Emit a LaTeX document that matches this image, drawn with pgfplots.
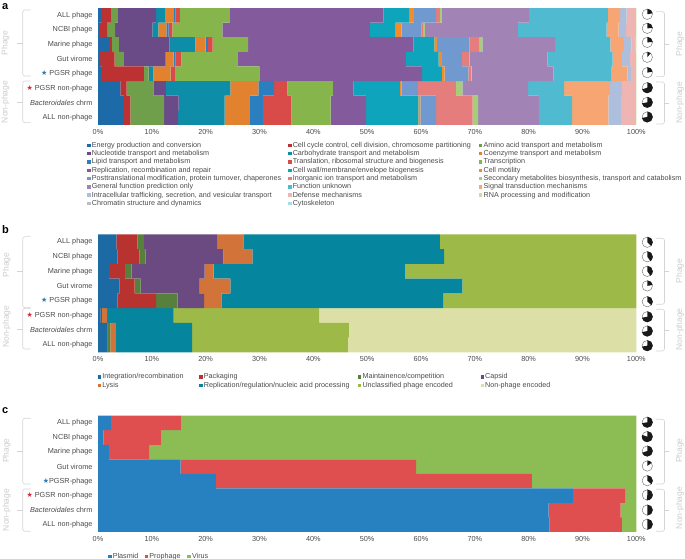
\documentclass[border=0pt]{standalone}
\usepackage{pgfplots}
\usepackage{pgfplotstable}
\usepackage{fontspec}
\pgfplotsset{compat=1.18}
\setmainfont{Liberation Sans}
\newfontfamily\djfont{DejaVu Sans}
\definecolor{txt}{HTML}{4A4A4A}
\definecolor{brk}{HTML}{D4D4D4}
\definecolor{brt}{HTML}{CCCCCC}
\definecolor{sblue}{HTML}{2A78B0}
\definecolor{sred}{HTML}{D02A35}
% panel a
\definecolor{A1}{HTML}{1C6AA8}\definecolor{A2}{HTML}{BC3232}\definecolor{A3}{HTML}{6F9F4B}
\definecolor{A4}{HTML}{6A4A87}\definecolor{A5}{HTML}{0D8DA8}\definecolor{A6}{HTML}{E2812E}
\definecolor{A7}{HTML}{2B7FBE}\definecolor{A8}{HTML}{D84B49}\definecolor{A9}{HTML}{86B54C}
\definecolor{A10}{HTML}{835A9C}\definecolor{A11}{HTML}{0EA5BC}\definecolor{A12}{HTML}{F28C2C}
\definecolor{A13}{HTML}{7099CF}\definecolor{A14}{HTML}{E47D7C}\definecolor{A15}{HTML}{A5CE78}
\definecolor{A16}{HTML}{A283B5}\definecolor{A17}{HTML}{50BBD0}\definecolor{A18}{HTML}{F7A673}
\definecolor{A19}{HTML}{AEBFDD}\definecolor{A20}{HTML}{EFB5B3}\definecolor{A21}{HTML}{C6DFA0}
\definecolor{A22}{HTML}{BDBDBD}\definecolor{A23}{HTML}{A6DCE6}
% panel b
\definecolor{B1}{HTML}{1C6AA4}\definecolor{B2}{HTML}{B8322F}\definecolor{B3}{HTML}{57803C}
\definecolor{B4}{HTML}{6A4A80}\definecolor{B5}{HTML}{D2743A}\definecolor{B6}{HTML}{06859F}
\definecolor{B7}{HTML}{9DBA48}\definecolor{B8}{HTML}{DCE0A6}
% panel c
\definecolor{C1}{HTML}{2780C0}\definecolor{C2}{HTML}{E04F4F}\definecolor{C3}{HTML}{8CBD55}

\pgfplotstableread{
row c1 c2 c3 c4 c5 c6 c7 c8 c9 c10 c11 c12 c13 c14 c15 c16 c17 c18 c19 c20 c21 c22 c23
0 .7 1.7 1.3 7.1 1.6 1.7 .3 .8 9.3 28.5 4.8 .9 4.1 .7 .4 16.2 14.6 2.3 1.2 1.7 .1 0 0
1 .2 1.5 1.5 6.9 1.1 1.5 .4 .7 9.3 27.4 4.8 1.1 3.7 .4 .2 17.3 16.5 2.2 1.4 1.8 .1 0 0
2 2.2 .4 1.3 9.35 4.85 1.9 .4 .9 6.6 30.7 3.9 .5 6.0 1.9 .5 13.5 10.3 2.5 1.4 .65 .25 0 0
3 .4 2.7 1.7 7.7 .1 1.45 .35 1.1 10.4 31.3 6.1 .6 3.7 1.4 .1 14.4 12.1 1.7 1.5 1.1 .1 0 0
4 .7 7.8 .9 .1 .8 3.2 .1 .7 15.7 30.2 3.7 .5 4.4 .5 .1 15.2 10.8 3.0 .6 .9 .1 0 0
5 4.15 1.15 5.0 2.3 12.0 5.2 2.9 2.5 8.45 3.85 8.6 .25 3.05 7.1 1.2 12.2 6.7 8.5 2.2 2.6 .1 0 0
6 4.8 1.2 6.3 2.7 8.5 4.7 2.45 5.25 7.3 6.6 9.7 .4 2.9 6.8 1.0 11.3 6.2 6.7 2.4 2.7 .1 0 0
7 4.8 1.2 6.3 2.6 8.6 4.7 2.45 5.25 7.3 6.6 9.7 .4 2.9 6.8 1.0 11.3 6.2 6.7 2.4 2.7 .1 0 0
}\tabA
\pgfplotstableread{
row c1 c2 c3 c4 c5 c6 c7 c8
0 3.4 3.9 1.2 13.7 4.8 36.5 36.5 0
1 3.6 4.1 1.15 14.45 5.4 35.6 35.7 0
2 2.0 3.0 1.25 13.55 1.7 35.5 43.0 0
3 4.0 2.8 1.1 10.9 5.8 43.1 32.3 0
4 3.6 7.2 4.0 4.9 3.2 41.2 35.9 0
5 .5 .05 .05 .1 1.0 12.35 27.05 58.9
6 1.75 .1 .45 0 1.0 14.2 29.1 53.4
7 1.75 .1 .45 0 1.0 14.2 28.9 53.6
}\tabB
\pgfplotstableread{
row c1 c2 c3
0 2.4 13.0 84.6
1 1.0 10.7 88.3
2 2.0 7.6 90.4
3 15.35 43.75 40.9
4 21.9 58.7 19.4
5 88.2 9.7 2.1
6 83.7 13.4 2.9
7 83.9 13.4 2.7
}\tabC

\pgfdeclareplotmark{pie}{%
  \pgfmathsetmacro\pieang{90-360*\pief}%
  \pgfsetlinewidth{0.45pt}%
  \pgfsetstrokecolor{black!55}%
  \pgfsetfillcolor{white}%
  \pgfpathcircle{\pgfpointorigin}{5.2pt}%
  \pgfusepath{fill,stroke}%
  \pgfsetfillcolor{black!90}%
  \pgfpathmoveto{\pgfpointorigin}%
  \pgfpathlineto{\pgfpointpolar{90}{5.5pt}}%
  \pgfpatharc{90}{\pieang}{5.5pt}%
  \pgfpathclose
  \pgfusepath{fill}%
}

\pgfplotsset{
  panel/.style={
    scale only axis, width=538.3pt,
    xbar stacked, bar width=1, clip=false,
    xmin=0, xmax=100, ymin=-.5, ymax=7.5, y dir=reverse,
    axis line style={draw=none}, major tick length=0pt,
    xtick={0,10,...,100}, ytick={0,...,7},
    xticklabel={\pgfmathprintnumber[assume math mode=true]{\tick}\%},
    tick label style={font=\fontsize{7.3}{8}\selectfont, text=txt, inner sep=0pt},
    xticklabel style={anchor=center, yshift=-6.8pt},
    yticklabel style={anchor=east, xshift=-5.3pt},
    legend cell align=left,
    legend style={draw=none, fill=none, inner sep=0pt, outer sep=0pt, anchor=north west,
      font=\fontsize{7.2}{8}\selectfont, text=txt,
      nodes={inner sep=0pt, text height=5.4pt, text depth=1.4pt},
      column sep=0pt, row sep=1.5pt,
      /tikz/every odd column/.append style={column sep=1pt},
      /tikz/every even column/.append style={column sep=0pt}},
    legend image code/.code={\path[##1,draw=none] (0pt,-1.7pt) rectangle (3.4pt,1.7pt);\path (0pt,0pt) -- (3.6pt,0pt);},
  },
  pieax/.style={
    scale only axis, width=538.3pt, hide axis, clip=false,
    xmin=0, xmax=100, ymin=-.5, ymax=7.5, y dir=reverse,
  },
  pies/.style={only marks, scatter, point meta=\thisrow{f},
    mark=pie, visualization depends on={\thisrow{f}\as\pief}},
}
\newcommand\starB[1]{{\color{sblue}\djfont\fontsize{7}{8}\selectfont ★}#1}
\newcommand\starR[1]{{\color{sred}\djfont\fontsize{7}{8}\selectfont ★}#1}
\newcommand\serA[3]{\addplot[fill=#1,draw=none] table[x=#2,y=row] {\tabA}; \addlegendentry{#3}}
\newcommand\serB[3]{\addplot[fill=#1,draw=none] table[x=#2,y=row] {\tabB}; \addlegendentry{#3}}
\newcommand\serC[3]{\addplot[fill=#1,draw=none] table[x=#2,y=row] {\tabC}; \addlegendentry{#3}}
\newcommand\wa[1]{\makebox[196.3pt][l]{#1}}
\newcommand\wb[1]{\makebox[186.3pt][l]{#1}}
% bracket helpers, coordinates in picture pixels from the top
\newcommand\lbrk[3]{\draw[brk,line width=.6pt,rounded corners=2.2pt] (30.7,#1) -- (22.7,#1) -- (22.7,#3) -- (30.7,#3);\draw[brk,line width=.6pt] (22.7,#2) -- (17.3,#2);}
\newcommand\rbrk[3]{\draw[brk,line width=.6pt,rounded corners=2.2pt] (656,#1) -- (664.5,#1) -- (664.5,#3) -- (656,#3);\draw[brk,line width=.6pt] (664.5,#2) -- (668.5,#2);}
\newcommand\sidetxt[3]{\node[rotate=90,text=brt,inner sep=0pt,font=\fontsize{8.5}{9}\selectfont] at (#1,#2) {#3};}
\begin{document}
\begin{tikzpicture}
\path[use as bounding box] (0,0) rectangle (685pt,559pt);
% ---------- a
\begin{axis}[panel, at={(98pt,434pt)}, anchor=south west, height=117pt,
  yticklabels={ALL phage,NCBI phage,Marine phage,Gut virome,{\starB{ PGSR phage}},{\starR{ PGSR non-phage}},{\textit{Bacteroidales} chrm},ALL non-phage},
  legend columns=3,
  legend style={at={(-0.0199,-0.145)}}]
\serA{A1}{c1}{\wa{Energy production and conversion}}
\serA{A2}{c2}{\wb{Cell cycle control, cell division, chromosome partitioning}}
\serA{A3}{c3}{Amino acid transport and metabolism}
\serA{A4}{c4}{\wa{Nucleotide transport and metabolism}}
\serA{A5}{c5}{\wb{Carbohydrate transport and metabolism}}
\serA{A6}{c6}{Coenzyme transport and metabolism}
\serA{A7}{c7}{\wa{Lipid transport and metabolism}}
\serA{A8}{c8}{\wb{Translation, ribosomal structure and biogenesis}}
\serA{A9}{c9}{Transcription}
\serA{A10}{c10}{\wa{Replication, recombination and repair}}
\serA{A11}{c11}{\wb{Cell wall/membrane/envelope biogenesis}}
\serA{A12}{c12}{Cell motility}
\serA{A13}{c13}{\wa{Posttranslational modification, protein turnover, chaperones}}
\serA{A14}{c14}{\wb{Inorganic ion transport and metabolism}}
\serA{A15}{c15}{Secondary metabolites biosynthesis, transport and catabolism}
\serA{A16}{c16}{\wa{General function prediction only}}
\serA{A17}{c17}{\wb{Function unknown}}
\serA{A18}{c18}{Signal transduction mechanisms}
\serA{A19}{c19}{\wa{Intracellular trafficking, secretion, and vesicular transport}}
\serA{A20}{c20}{\wb{Defense mechanisms}}
\serA{A21}{c21}{RNA processing and modification}
\serA{A22}{c22}{\wa{Chromatin structure and dynamics}}
\serA{A23}{c23}{\wb{Cytoskeleton}}
\end{axis}
\begin{axis}[pieax, at={(98pt,434pt)}, anchor=south west, height=117pt]
\addplot[pies] table {
x y f
102.04 -.07 .22
102.04 .89 .24
102.04 1.85 .24
102.04 2.87 .11
102.04 3.92 .22
102.04 4.95 .70
102.04 5.95 .72
102.04 6.95 .72
};
\end{axis}
% ---------- b
\begin{axis}[panel, at={(98pt,206.7pt)}, anchor=south west, height=118pt,
  yticklabels={ALL phage,NCBI phage,Marine phage,Gut virome,{\starB{ PGSR phage}},{\starR{ PGSR non-phage}},{\textit{Bacteroidales} chrm},ALL non-phage},
  legend columns=4,
  legend style={at={(-0.0005,-0.18)}}]
\serB{B1}{c1}{\makebox[97pt][l]{Integration/recombination}}
\serB{B2}{c2}{\makebox[154pt][l]{Packaging}}
\serB{B3}{c3}{\makebox[118pt][l]{Maintainence/competition}}
\serB{B4}{c4}{Capsid}
\serB{B5}{c5}{\makebox[97pt][l]{Lysis}}
\serB{B6}{c6}{\makebox[154pt][l]{Replication/regulation/nucleic acid processing}}
\serB{B7}{c7}{\makebox[118pt][l]{Unclassified phage encoded}}
\serB{B8}{c8}{Non-phage encoded}
\end{axis}
\begin{axis}[pieax, at={(98pt,206.7pt)}, anchor=south west, height=118pt]
\addplot[pies] table {
x y f
102.04 .04 .37
102.04 1.02 .40
102.04 2.01 .40
102.04 3.0 .22
102.04 4.07 .36
102.04 5.09 .72
102.04 6.06 .72
102.04 7.05 .72
};
\end{axis}
% ---------- c
\begin{axis}[panel, at={(98pt,27pt)}, anchor=south west, height=116.3pt,
  yticklabels={ALL phage,NCBI phage,Marine phage,Gut virome,{\starB{PGSR-phage}},{\starR{ PGSR non-phage}},{\textit{Bacteroidales} chrm},ALL non-phage},
  legend columns=3,
  legend style={at={(0.019,-0.182)}}]
\serC{C1}{c1}{\makebox[32pt][l]{Plasmid}}
\serC{C2}{c2}{\makebox[38pt][l]{Prophage}}
\serC{C3}{c3}{Virus}
\end{axis}
\begin{axis}[pieax, at={(98pt,27pt)}, anchor=south west, height=116.3pt]
\addplot[pies] table {
x y f
102.04 -.05 .72
102.04 .94 .80
102.04 1.93 .70
102.04 2.96 .15
102.04 3.97 .36
102.04 4.95 .52
102.04 5.99 .50
102.04 6.97 .50
};
\end{axis}
% ---------- annotations
\begin{scope}[x=1pt,y=-1pt,yshift=559pt]
\node[anchor=base west,inner sep=0pt,font=\bfseries\fontsize{11}{12}\selectfont,text=black] at (2,10) {a};
\node[anchor=base west,inner sep=0pt,font=\bfseries\fontsize{11}{12}\selectfont,text=black] at (2,234) {b};
\node[anchor=base west,inner sep=0pt,font=\bfseries\fontsize{11}{12}\selectfont,text=black] at (2,414) {c};
\lbrk{10}{43}{76}\lbrk{81}{102}{122.7}
\rbrk{11.7}{44}{76.7}\rbrk{82}{103}{124}
\sidetxt{5.5}{43}{Phage}\sidetxt{5.5}{102}{Non-phage}
\sidetxt{680}{44}{Phage}\sidetxt{680}{102.7}{Non-phage}
\lbrk{236.7}{271}{307.7}\lbrk{308.3}{329}{349}
\rbrk{238.3}{271}{304.3}\rbrk{309.3}{330}{351}
\sidetxt{6.7}{265}{Phage}\sidetxt{6.7}{326.7}{Non-phage}
\sidetxt{680}{271}{Phage}\sidetxt{680}{329.3}{Non-phage}
\lbrk{418.3}{451.3}{484}\lbrk{489}{510}{531.3}
\rbrk{419.3}{451.3}{484}\rbrk{489.3}{510}{531.3}
\sidetxt{6.7}{450.7}{Phage}\sidetxt{6.7}{510}{Non-phage}
\sidetxt{680}{450.7}{Phage}\sidetxt{680}{508}{Non-phage}
\end{scope}
\end{tikzpicture}
\end{document}
